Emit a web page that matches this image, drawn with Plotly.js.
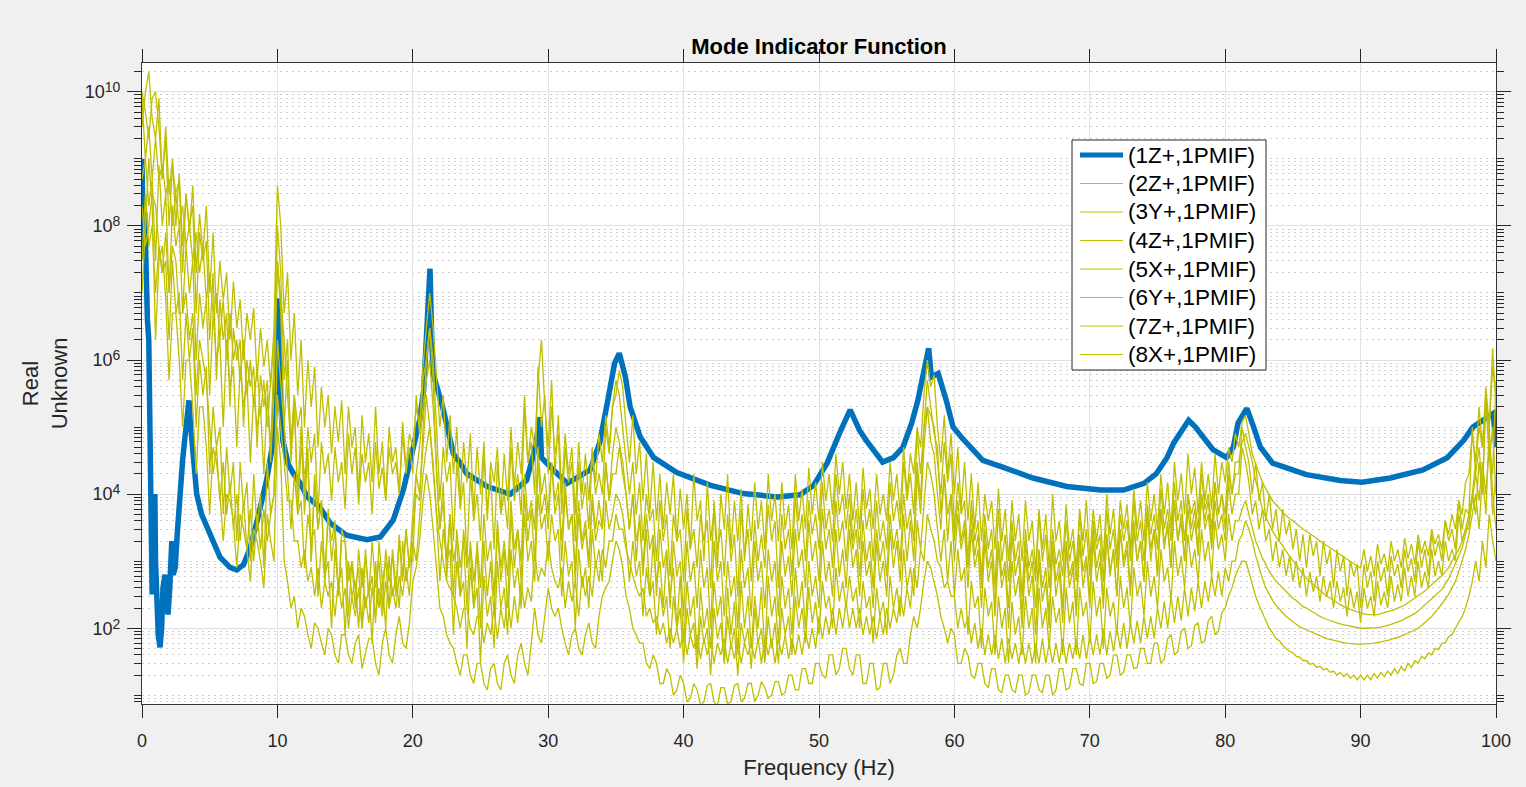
<!DOCTYPE html>
<html><head><meta charset="utf-8">
<script src="https://cdn.plot.ly/plotly-3.0.1.min.js"></script>
<style>html,body{margin:0;padding:0;background:#f0f0f0;}#chart{width:1526px;height:787px;}</style>
</head><body><div id="chart"></div>
<script>
// Frequency grid (Hz) of the yellow PMIF series
const freq = [
0,0.25,0.5,0.75,1,1.25,1.5,1.75,2,2.25,2.5,2.75,3,3.25,3.5,3.75,4,4.25,4.5,4.75,
5,5.25,5.5,5.75,6,6.25,6.5,6.75,7,7.25,7.5,7.75,8,8.25,8.5,8.75,9,9.25,9.5,9.75,
10,10.25,10.5,10.75,11,11.25,11.5,11.75,12,12.25,12.5,12.75,13,13.25,13.5,13.75,14,14.25,14.5,14.75,
15,15.25,15.5,15.75,16,16.25,16.5,16.75,17,17.25,17.5,17.75,18,18.25,18.5,18.75,19,19.25,19.5,19.75,
20,20.25,20.5,20.75,21,21.25,21.5,21.75,22,22.25,22.5,22.75,23,23.25,23.5,23.75,24,24.25,24.5,24.75,
25,25.25,25.5,25.75,26,26.25,26.5,26.75,27,27.25,27.5,27.75,28,28.25,28.5,28.75,29,29.25,29.5,29.75,
30,30.25,30.5,30.75,31,31.25,31.5,31.75,32,32.25,32.5,32.75,33,33.25,33.5,33.75,34,34.25,34.5,34.75,
35,35.25,35.5,35.75,36,36.25,36.5,36.75,37,37.25,37.5,37.75,38,38.25,38.5,38.75,39,39.25,39.5,39.75,
40,40.25,40.5,40.75,41,41.25,41.5,41.75,42,42.25,42.5,42.75,43,43.25,43.5,43.75,44,44.25,44.5,44.75,
45,45.25,45.5,45.75,46,46.25,46.5,46.75,47,47.25,47.5,47.75,48,48.25,48.5,48.75,49,49.25,49.5,49.75,
50,50.25,50.5,50.75,51,51.25,51.5,51.75,52,52.25,52.5,52.75,53,53.25,53.5,53.75,54,54.25,54.5,54.75,
55,55.25,55.5,55.75,56,56.25,56.5,56.75,57,57.25,57.5,57.75,58,58.25,58.5,58.75,59,59.25,59.5,59.75,
60,60.25,60.5,60.75,61,61.25,61.5,61.75,62,62.25,62.5,62.75,63,63.25,63.5,63.75,64,64.25,64.5,64.75,
65,65.25,65.5,65.75,66,66.25,66.5,66.75,67,67.25,67.5,67.75,68,68.25,68.5,68.75,69,69.25,69.5,69.75,
70,70.25,70.5,70.75,71,71.25,71.5,71.75,72,72.25,72.5,72.75,73,73.25,73.5,73.75,74,74.25,74.5,74.75,
75,75.25,75.5,75.75,76,76.25,76.5,76.75,77,77.25,77.5,77.75,78,78.25,78.5,78.75,79,79.25,79.5,79.75,
80,80.25,80.5,80.75,81,81.25,81.5,81.75,82,82.25,82.5,82.75,83,83.25,83.5,83.75,84,84.25,84.5,84.75,
85,85.25,85.5,85.75,86,86.25,86.5,86.75,87,87.25,87.5,87.75,88,88.25,88.5,88.75,89,89.25,89.5,89.75,
90,90.25,90.5,90.75,91,91.25,91.5,91.75,92,92.25,92.5,92.75,93,93.25,93.5,93.75,94,94.25,94.5,94.75,
95,95.25,95.5,95.75,96,96.25,96.5,96.75,97,97.25,97.5,97.75,98,98.25,98.5,98.75,99,99.25,99.5,99.75,
100];

// Blue series (1Z+,1PMIF)
const blueFreq = [0,0.05,0.1,0.2,0.3,0.4,0.5,0.6,0.7,0.75,0.85,0.95,1.0,1.1,1.2,1.33,1.45,1.55,1.7,1.8,1.92,2.05,2.2,2.3,2.45,2.6,2.8,3.0,3.2,3.47,3.6,3.77,4.04,4.4,4.78,5.3,5.76,6.5,7.0,7.5,8.0,8.5,9.2,9.7,9.95,10.05,10.2,10.4,10.8,11.2,11.7,12.2,13.1,13.9,15.1,16.6,17.6,18.55,19.3,20.0,20.5,20.8,21.1,21.27,21.4,21.5,22.2,23,23.5,24,25.5,27.2,28.4,29.0,29.4,29.5,30.2,31.4,33.1,33.8,34.4,34.9,35.25,35.7,36.05,36.8,37.8,39.5,42,44.4,46.9,48.6,49.6,50.6,51.6,52.3,53.0,53.5,54.7,55.5,56.2,56.85,57.3,57.8,58.1,58.3,58.8,59.4,59.9,60.5,61.2,62.1,63.4,65.8,68.3,70.8,72.5,74,74.9,75.7,76.2,76.9,77.3,77.8,78.4,79.1,80.1,80.6,80.95,81.6,82.1,82.6,83.5,86,88.5,90.1,92.2,94.6,96.4,97.6,98.3,99.1,99.8,100];
const blueVal = [1e9,1e8,3.2e7,1.6e8,1e7,4e6,2e6,8e4,3.2e3,3.2e2,2e3,1e4,1e3,2.5e2,80,52,100,400,630,320,160,400,2000,630,800,2500,1.26e4,3.2e4,8e4,2.5e5,1e5,4e4,1e4,5e3,3.2e3,1.8e3,1.15e3,810,740,890,1.6e3,4e3,1.6e4,6.3e4,6.3e5,8.3e6,4e5,6.3e4,2.8e4,2e4,1.45e4,9.1e3,6.5e3,3.7e3,2.45e3,2.1e3,2.3e3,4.1e3,1.15e4,4.6e4,1.26e5,3.5e5,3.2e6,2.3e7,2e6,6.3e5,2e5,4e4,2.9e4,2e4,1.3e4,1e4,1.6e4,4.5e4,1.4e5,3.5e4,2.5e4,1.45e4,2.3e4,5.8e4,2.5e5,8.9e5,1.26e6,5.6e5,2e5,7.1e4,3.5e4,2.1e4,1.35e4,1.02e4,9.1e3,9.8e3,1.35e4,2.9e4,8.9e4,1.8e5,8.9e4,6.3e4,3e4,3.5e4,5e4,1.15e5,2.5e5,7.1e5,1.5e6,5.6e5,6.3e5,2.5e5,1e5,7.1e4,5e4,3.2e4,2.6e4,1.74e4,1.3e4,1.15e4,1.15e4,1.45e4,2e4,3.5e4,5.8e4,1e5,1.26e5,1e5,7.1e4,4.6e4,3.5e4,5e4,1.15e5,1.9e5,1e5,5e4,2.9e4,1.95e4,1.6e4,1.5e4,1.74e4,2.3e4,3.5e4,6.3e4,1e5,1.26e5,1.6e5,5e4];

const s2 = [
3e9,1e10,2e10,4e9,2e9,8e9,5e8,3e9,3e8,1e9,1e8,6e8,5e7,3e8,8e7,4e8,2e7,1.5e8,4e7,2e8,
1e7,8e7,5e6,3e7,8e6,2e7,2e6,1.5e7,3e6,8e6,1e6,5e6,2e6,6e6,5e5,3e6,8e5,2e6,4e5,3e6,
4e8,1e8,5e6,2e7,1e6,5e6,3e5,2e6,1e5,1e6,2e5,8e5,5e4,4e5,1e5,3e5,4e4,2e5,6e4,2.5e5,
2e4,2e5,5e4,1e5,1e4,1.5e5,3e4,8e4,1.5e4,2e5,2e4,6e4,8e3,1e5,3e4,5e4,1e4,1.2e5,2.5e4,8e4,
5e4,2e5,1e5,8e5,3e6,1e7,3e6,5e5,1e5,3e5,3e4,1.5e5,2e4,1e5,8e3,6e4,1.5e4,8e4,5e3,5e4,
1e4,6e4,4e3,3e4,1.5e4,5e4,5e3,4e4,8e3,1e5,1.2e4,6e4,2e4,3e5,3e4,1e5,5e4,5e5,2e6,2e5,
5e4,5e5,2e4,1.5e5,1e4,8e4,2e4,5e4,5e3,6e4,1e4,4e4,8e3,5e4,1.5e4,8e4,3e4,1.5e5,5e4,2e5,
3e5,7e5,4e5,1e5,3e4,1.5e5,2e4,6e4,8e3,4e4,5e3,3e4,4e3,2e4,3e3,1.5e4,5e3,2e4,2e3,1.2e4,
3e3,1e4,1.5e3,2e4,4e3,8e3,1e3,1.5e4,2e3,6e3,8e2,1e4,3e3,2e4,1.5e3,8e3,2e3,1.2e4,1e3,7e3,
2e3,1.5e4,3e3,8e3,1.5e3,2e4,4e3,1e4,2e3,1.5e4,3e3,7e3,1.5e3,2e4,4e3,1.2e4,3e3,2.5e4,5e3,1.5e4,
4e3,3e4,8e3,2e4,5e3,4e4,1e4,3e4,6e3,2e4,4e3,1.5e4,3e3,2.5e4,6e3,1.2e4,3e3,2e4,5e3,1e4,
4e3,3e4,8e3,2e4,5e3,5e4,1e4,4e4,2e4,1e5,5e4,3e5,1e6,4e5,6e5,1e5,3e4,1.5e5,2e4,8e4,
1e4,5e4,6e3,3e4,4e3,2e4,3e3,1.5e4,2e3,1e4,4e3,8e3,1.5e3,1.2e4,2e3,6e3,1e3,8e3,2e3,5e3,
1e3,8e3,2e3,4e3,7e2,6e3,1.5e3,5e3,8e2,1e4,2e3,4e3,1e3,7e3,1.5e3,3e3,8e2,6e3,2e3,8e3,
1e3,6e3,2e3,5e3,1e3,1e4,2.5e3,6e3,1.2e3,8e3,3e3,7e3,1.5e3,1.2e4,3e3,8e3,2e3,1.5e4,4e3,1e4,
3e3,2e4,5e3,1.5e4,3e3,3e4,8e3,2e4,5e3,4e4,1e4,2.5e4,5e3,3e4,8e3,2e4,6e3,4e4,1e4,3e4,
1.5e4,5e4,3e4,8e4,5e4,1.2e5,1.5e5,8e4,4e4,2.8e4,2e4,1.5e4,1.2e4,1e4,8e3,7e3,6e3,5.3e3,4.8e3,4.3e3,
4e3,3.6e3,3.3e3,3e3,2.8e3,2.6e3,2.4e3,2.2e3,2e3,1.85e3,1.7e3,1.55e3,1.45e3,1.35e3,1.25e3,1.15e3,1.05e3,9.8e2,9e2,8.5e2,
8e2,1.5e3,7e2,1.2e3,6e2,1.8e3,9e2,1.3e3,7e2,2e3,1e3,1.5e3,8e2,2.2e3,1.1e3,1.8e3,9e2,2.5e3,1.3e3,2e3,
1.2e3,3e3,1.8e3,2.5e3,1.5e3,4e3,2.5e3,5e3,3e3,8e3,5e3,1.5e4,2e4,8e4,3e4,2e5,5e4,4e5,1e5,1.5e6,
2e5];

const s3 = [
1e10,5e9,2e9,8e9,1e10,3e9,5e8,2e9,1e8,8e8,3e8,5e8,2e7,3e8,1e8,2e8,5e6,8e7,3e7,6e7,
2e6,2e7,5e5,8e6,2e6,5e6,2e5,3e6,1e6,2e6,1e5,1e6,4e5,8e5,5e4,6e5,2e5,5e5,3e4,3e5,
3e7,5e6,1e5,1e6,5e4,3e5,5e3,5e4,2e4,3e4,1e3,1.5e4,3e3,8e3,5e2,5e3,2e3,4e3,3e2,3e3,
2e3,1.5e2,1e3,4e2,8e2,1e2,1.5e3,3e2,6e2,1.2e2,2e3,5e2,1e3,2e2,1.5e3,4e2,2.5e3,5e2,3e3,8e2,
3e3,1e4,8e3,1e5,1e6,3e6,5e5,2e4,3e3,8e3,1e3,5e3,3e2,3e3,8e2,2e3,2e2,2e3,5e2,1.5e3,
1e2,2e3,3e2,1e3,1.5e2,3e3,5e2,1.5e3,2e2,5e3,8e2,3e3,5e2,1e4,2e3,6e3,1e3,3e4,5e3,1e4,
3e3,3e4,5e3,1e4,2e3,1.5e4,3e3,5e3,8e2,8e3,2e3,4e3,1e3,1e4,3e3,8e3,3e3,3e4,8e3,2e4,
2e4,5e4,2e4,1e4,3e3,1e4,1e3,5e3,6e2,3e3,3e2,2e3,5e2,1e3,2e2,1.2e3,3e2,8e2,1e2,6e2,
6e1,5e2,1.5e2,3e2,4e1,4e2,1e2,2e2,5e1,5e2,1.5e2,3e2,3e1,4e2,8e1,2.5e2,4e1,5e2,1e2,3e2,
5e1,3e2,1e2,4e2,4e1,6e2,1.5e2,3e2,6e1,6e2,2e2,4e2,8e1,8e2,2e2,5e2,1e2,1e3,3e2,6e2,
2e2,2e3,5e2,1e3,3e2,3e3,6e2,1.5e3,4e2,3e3,8e2,1.5e3,3e2,2e3,6e2,1e3,2e2,2e3,5e2,1e3,
3e2,3e3,8e2,2e3,5e2,5e3,1e3,4e3,1e3,2e4,5e3,5e4,2e5,6e4,4e4,1e4,3e3,2e4,2e3,1e4,
1e3,5e3,1.5e3,3e3,4e2,3e3,8e2,1.5e3,2e2,2e3,5e2,1e3,1.5e2,1.5e3,4e2,8e2,1e2,1e3,3e2,6e2,
1e2,1.2e3,3e2,6e2,8e1,1e3,2.5e2,5e2,1e2,1.5e3,3e2,7e2,1.2e2,1.5e3,4e2,8e2,1.5e2,2e3,4e2,1e3,
2e2,2e3,5e2,1e3,2e2,2.5e3,6e2,1.5e3,3e2,3e3,8e2,1.5e3,3e2,3e3,1e3,2e3,5e2,5e3,1e3,3e3,
6e2,6e3,1.5e3,4e3,8e2,8e3,2e3,5e3,1e3,1e4,3e3,6e3,1.5e3,1e4,4e3,8e3,2e3,1.5e4,5e3,1e4,
3e3,2e4,1e4,3e4,3e4,6e4,8e4,5e4,3e4,1.6e4,1e4,6e3,4.5e3,3.5e3,2.8e3,2.3e3,2e3,1.7e3,1.4e3,1.2e3,
1e3,8.5e2,7.5e2,6.5e2,5.5e2,5e2,4.5e2,4e2,3.6e2,3.3e2,3e2,2.8e2,2.6e2,2.4e2,2.2e2,2.1e2,2e2,1.9e2,1.8e2,1.75e2,
1.7e2,1.65e2,1.6e2,1.6e2,1.6e2,1.6e2,1.65e2,1.7e2,1.75e2,1.8e2,1.9e2,2e2,2.1e2,2.2e2,2.4e2,2.6e2,2.8e2,3e2,3.3e2,3.6e2,
4e2,4.5e2,5e2,5.5e2,6e2,7e2,8e2,1e3,1.2e3,1.5e3,2e3,3e3,5e3,1e4,3e4,1e5,5e4,3e5,1e5,8e5,
3e5];

const s4 = [
5e8,1e9,2e8,5e8,3e7,8e8,1e8,3e8,1e7,2e8,5e7,1e8,5e6,5e7,1e7,3e7,1e6,1e7,3e6,8e6,
3e5,5e6,1e6,2e6,1e5,2e6,4e5,8e5,5e4,8e5,2e5,5e5,3e4,3e5,1e5,2e5,2e4,3e5,5e4,1e6,
3e7,8e6,2e6,3e5,5e4,3e5,1e5,2e5,1e4,1e5,3e4,8e4,5e3,6e4,2e4,4e4,8e3,5e4,1.5e4,3e4,
6e3,8e4,2e4,5e4,7e3,4e4,1.5e4,3e4,5e3,6e4,1.2e4,2.5e4,8e3,5e4,2e4,3e4,1e4,8e4,2e4,5e4,
2e4,3e5,8e4,5e5,1e6,3e6,1e6,1e5,8e3,5e4,1.5e4,3e4,2e3,3e4,6e3,1.5e4,1e3,2e4,4e3,1e4,
2e3,4e4,6e3,2e4,1.5e3,3e4,5e3,1e4,3e3,5e4,8e3,2e4,5e3,2e5,3e4,6e4,1e4,8e5,1e5,3e5,
2e4,2e5,4e4,8e4,5e3,5e4,1.5e4,3e4,2e3,3e4,6e3,1.5e4,3e3,4e4,1e4,2e4,1e4,1e5,4e4,2e5,
5e5,3e5,1e5,3e4,1e4,3e4,5e3,1.5e4,2e3,1e4,4e3,6e3,1e3,8e3,2e3,5e3,6e2,5e3,2e3,3e3,
5e2,6e3,1.5e3,3e3,8e2,5e3,2e3,4e3,4e2,8e3,1.5e3,3e3,6e2,5e3,1e3,2.5e3,3e2,6e3,1.2e3,3e3,
5e2,4e3,1e3,2.5e3,8e2,7e3,2e3,4e3,4e2,5e3,1.5e3,3e3,6e2,1e4,2e3,5e3,1e3,8e3,2.5e3,5e3,
1.5e3,1.5e4,3e3,6e3,2e3,2e4,5e3,1e4,3e3,1e4,2e3,6e3,1.5e3,1.2e4,3e3,6e3,1e3,8e3,2e3,4e3,
1.5e3,1.5e4,4e3,8e3,3e3,3e4,8e3,2e4,5e3,8e4,2e4,1e5,2e5,1.5e5,1e5,3e4,1e4,6e4,1.5e4,4e4,
3e3,1.5e4,5e3,8e3,1e3,8e3,2e3,4e3,6e2,5e3,1.5e3,3e3,4e2,6e3,1e3,2.5e3,5e2,4e3,1e3,2e3,
3e2,3e3,8e2,1.5e3,5e2,5e3,1e3,2.5e3,4e2,3e3,9e2,1.5e3,6e2,4e3,1e3,2e3,5e2,5e3,1.2e3,3e3,
6e2,4e3,1.5e3,2.5e3,5e2,6e3,1.5e3,3e3,8e2,5e3,2e3,4e3,1e3,8e3,2e3,4e3,1e3,7e3,2.5e3,5e3,
1.5e3,1.2e4,3e3,6e3,2e3,1.5e4,4e3,8e3,2e3,1e4,5e3,8e3,3e3,2e4,6e3,1e4,3e3,1.5e4,5e3,1e4,
5e3,3e4,1e4,2e4,2e4,1e5,5e4,3e4,1e4,3e4,8e3,1.5e4,4e3,1e4,3e3,6e3,2e3,6e3,2.5e3,4e3,
1.5e3,3e3,1e3,2.5e3,8e2,2.5e3,1.2e3,2e3,6e2,2e3,9e2,1.5e3,4e2,1.5e3,7e2,1.2e3,3e2,1e3,6e2,9e2,
2e2,9e2,4e2,7e2,2.5e2,1e3,5e2,8e2,3e2,1.2e3,6e2,9e2,4e2,1.5e3,7e2,1.1e3,5e2,2e3,8e2,1.5e3,
6e2,2.5e3,1.2e3,2e3,1e3,4e3,2e3,3e3,1.5e3,8e3,3e3,6e3,5e3,1e5,2e4,5e4,1e4,3e5,3e4,1e5,
1e4];

const s5 = [
3e7,3e8,5e7,1e8,1e7,5e7,2e7,3e7,2e6,3e7,5e6,1e7,5e5,5e6,1e6,3e6,1e5,1e6,3e5,8e5,
2e4,2e5,5e4,1e5,5e3,5e4,1e4,3e4,2e3,3e4,6e3,1.5e4,1e3,2e4,3e3,1e4,8e2,3e4,5e3,1e4,
2e6,5e5,1e5,2e4,3e3,2e4,5e3,8e3,8e2,5e3,2e3,3e3,3e2,2e3,6e2,1e3,1e2,1.5e3,4e2,8e2,
8e1,1e3,3e2,5e2,1e2,8e2,2e2,4e2,6e1,1e3,2e2,5e2,1e2,1.2e3,3e2,6e2,2e2,2e3,5e2,1e3,
1e3,2e4,1e4,5e4,3e5,1e5,2e4,5e3,5e2,3e3,1e3,1.5e3,8e1,1e3,3e2,5e2,5e1,8e2,2e2,4e2,
3e1,6e2,1.5e2,3e2,5e1,1e3,2e2,4e2,8e1,1.5e3,4e2,8e2,2e2,5e3,1e3,2e3,5e2,1e4,3e3,5e3,
1e3,5e3,2e3,3e3,3e2,2e3,6e2,1e3,1e2,1.5e3,4e2,8e2,2e2,3e3,8e2,1.5e3,5e2,8e3,3e3,5e3,
1e4,8e3,5e3,2e3,5e2,2e3,6e2,1e3,1.5e2,8e2,3e2,5e2,8e1,4e2,1.5e2,3e2,5e1,3e2,1e2,2e2,
3e1,2e2,8e1,1.2e2,2.5e1,1.5e2,6e1,1e2,2e1,2e2,7e1,1.2e2,3e1,1.5e2,5e1,1e2,2e1,1.2e2,6e1,1e2,
2.5e1,2e2,6e1,1e2,3e1,1.5e2,5e1,1.2e2,3e1,2e2,8e1,1.5e2,4e1,3e2,1e2,2e2,6e1,4e2,1.2e2,2.5e2,
8e1,5e2,2e2,3e2,1e2,8e2,2.5e2,5e2,2e2,6e2,2.5e2,4e2,1e2,5e2,2e2,3e2,6e1,4e2,1.5e2,2.5e2,
8e1,6e2,2e2,4e2,1.5e2,1.5e3,4e2,8e2,3e2,4e3,1.5e3,8e3,3e4,2e4,1e4,3e3,1e3,3e3,5e2,2e3,
3e2,1.5e3,5e2,8e2,8e1,5e2,2e2,3e2,5e1,4e2,1.5e2,2.5e2,4e1,3e2,1e2,2e2,3e1,2.5e2,8e1,1.5e2,
4e1,3e2,1e2,2e2,3e1,4e2,1e2,2e2,5e1,3e2,1.2e2,2e2,4e1,4e2,1.2e2,2.5e2,4e1,4e2,1.5e2,2.5e2,
6e1,5e2,1.5e2,3e2,5e1,4e2,1.5e2,2.5e2,8e1,6e2,2e2,4e2,1e2,8e2,3e2,5e2,1.5e2,1e3,3e2,6e2,
2e2,1.5e3,5e2,8e2,2.5e2,2e3,6e2,1.2e3,4e2,2.5e3,8e2,1.5e3,5e2,3e3,1e3,2e3,6e2,4e3,1.5e3,2.5e3,
1e3,5e3,2e3,4e3,4e3,6e3,8e3,5e3,3e3,2e3,1.5e3,1.1e3,9e2,7e2,6e2,5e2,4.5e2,4e2,3.5e2,3.2e2,
2.8e2,2.6e2,2.3e2,2.1e2,2e2,1.85e2,1.7e2,1.6e2,1.5e2,1.42e2,1.35e2,1.3e2,1.25e2,1.2e2,1.15e2,1.12e2,1.1e2,1.07e2,1.05e2,1.03e2,
1e2,1e2,1e2,1e2,1e2,1.02e2,1.04e2,1.06e2,1.1e2,1.14e2,1.18e2,1.24e2,1.3e2,1.38e2,1.46e2,1.55e2,1.65e2,1.8e2,2e2,2.2e2,
2.4e2,2.7e2,3e2,3.4e2,3.8e2,4.5e2,5.5e2,7e2,9e2,1.2e3,1.6e3,2.5e3,4e3,8e3,2e4,8e3,3e4,1e4,5e4,5e3,
2e4];

const s6 = [
2e8,5e7,1e8,3e8,2e8,5e7,2e7,8e7,1e7,5e7,3e7,5e6,5e6,1e7,2e6,5e6,3e5,2e6,1e6,5e5,
1e5,2e4,5e4,8e3,3e4,5e3,1.5e4,3e3,1e4,2e3,8e3,1.5e3,6e3,1e3,5e3,1.5e3,6e3,2e3,5e3,1e4,
3e5,1e5,3e4,8e3,8e3,2e3,2e3,8e2,1.5e3,5e2,8e2,3e2,8e2,2e2,5e2,3e2,5e2,1.5e2,5e2,2e2,
4e2,1e2,3e2,1.5e2,4e2,1e2,3e2,1.2e2,4e2,1.5e2,4e2,1.5e2,5e2,2e2,4e2,2e2,6e2,3e2,8e2,3e2,
2e3,1e3,5e3,2e4,5e4,1e5,3e4,5e3,2e3,1e3,5e2,4e2,3e2,2e2,1e2,2e2,2e2,1e2,8e1,1.5e2,
1.5e2,6e1,1.2e2,8e1,2e2,7e1,2e2,1e2,3e2,1e2,3e2,1.2e2,5e2,2e2,4e2,2.5e2,1.5e3,5e2,8e2,6e2,
2e3,8e2,5e2,4e2,8e2,2e2,5e2,2.5e2,5e2,1.5e2,6e2,3e2,6e2,3e2,1e3,5e2,1.5e3,8e2,2e3,2e3,
5e3,3e3,3e3,1.5e3,1e3,6e2,4e2,3e2,4e2,1.5e2,2e2,1.2e2,1.5e2,8e1,1.2e2,6e1,1e2,6e1,1e2,5e1,
1e2,4e1,8e1,5e1,8e1,3.5e1,7e1,4e1,7e1,3e1,6e1,4e1,7e1,3e1,6e1,3.5e1,7e1,3e1,6e1,4e1,
6e1,3.5e1,7e1,3e1,7e1,4e1,7e1,3e1,7e1,4e1,8e1,3.5e1,7e1,4e1,8e1,4e1,9e1,5e1,1e2,5e1,
1.5e2,7e1,1.5e2,8e1,2e2,8e1,2e2,1e2,2.5e2,1e2,2e2,1e2,2e2,8e1,1.5e2,8e1,1.5e2,7e1,1.5e2,8e1,
2e2,1e2,2e2,1.2e2,3e2,1.5e2,4e2,2e2,8e2,4e2,1.5e3,1e3,5e3,3e3,2e3,1e3,8e2,4e2,5e2,3e2,
3e2,1e2,2e2,1e2,1.5e2,6e1,1.2e2,5e1,1e2,4e1,8e1,4e1,8e1,3.5e1,7e1,3e1,7e1,3.5e1,6e1,3e1,
6e1,3e1,6e1,3e1,6e1,3e1,7e1,3e1,6e1,3e1,6e1,3e1,7e1,3e1,6e1,3.5e1,7e1,3.5e1,8e1,3.5e1,
8e1,4e1,8e1,4e1,1e2,4e1,9e1,4.5e1,1e2,5e1,1.2e2,5e1,1.2e2,6e1,1.3e2,6e1,1.5e2,7e1,1.5e2,7e1,
2e2,1e2,2.5e2,1e2,3e2,1.2e2,3e2,1.3e2,4e2,1.5e2,4e2,1.8e2,5e2,2e2,5e2,2.5e2,6e2,3e2,7e2,3e2,
8e2,5e2,1e3,1e3,2e3,2.5e3,4e3,3e3,2e3,1.2e3,8e2,5.5e2,4e2,3.2e2,2.6e2,2.2e2,1.9e2,1.7e2,1.5e2,1.35e2,
1.25e2,1.15e2,1.05e2,1e2,9.5e1,9e1,8.5e1,8e1,7.6e1,7.3e1,7e1,6.8e1,6.6e1,6.4e1,6.2e1,6.1e1,6e1,5.9e1,5.8e1,5.8e1,
5.8e1,5.8e1,5.8e1,5.9e1,6e1,6.1e1,6.2e1,6.4e1,6.6e1,6.8e1,7e1,7.3e1,7.6e1,8e1,8.5e1,9e1,9.5e1,1e2,1.1e2,1.2e2,
1.35e2,1.5e2,1.7e2,2e2,2.3e2,2.7e2,3.2e2,4e2,5e2,7e2,1e3,1.5e3,2.5e3,5e3,1e4,3e3,2e4,5e3,1e5,1e4,
3e3];

const s7 = [
1e7,1e8,1e9,2e8,2e6,3e7,5e7,8e6,5e5,5e6,5e6,1e6,1e5,1e6,1e6,2e5,2e4,2e5,2e5,5e4,
5e3,5e4,3e4,1e4,2e3,1e4,8e3,4e3,8e2,5e3,3e3,1.5e3,5e2,3e3,2e3,1e3,4e2,5e3,2e3,1e3,
1e5,3e4,1e3,5e2,2e2,3e2,1e2,2e2,1.5e2,8e1,5e1,1.2e2,1e2,6e1,4e1,1e2,8e1,4e1,3e1,8e1,
8e1,4e1,3e1,6e1,8e1,2.5e1,4e1,7e1,7e1,3e1,2e1,6e1,1e2,4e1,3e1,8e1,1.5e2,6e1,5e1,1.2e2,
5e2,8e2,2e3,8e3,2e4,1e4,3e3,8e2,2e2,1.5e2,8e1,6e1,5e1,3e1,2e1,4e1,4e1,2e1,1.5e1,3e1,
3e1,1.5e1,1.2e1,2.5e1,3e1,1.5e1,1.2e1,3e1,4e1,2e1,1.5e1,4e1,6e1,3e1,2e1,6e1,2e2,8e1,6e1,1.5e2,
4e2,2e2,1.5e2,2e2,1e2,6e1,4e1,8e1,1e2,5e1,4e1,8e1,1.2e2,6e1,5e1,1.5e2,3e2,4e2,5e2,1e3,
2e3,1.5e3,8e2,3e2,2e2,1e2,8e1,6e1,6e1,3e1,2.5e1,4e1,3e1,1.5e1,1.5e1,2.5e1,2e1,1e1,1.2e1,2e1,
1.5e1,8,9,1.5e1,1.2e1,7,8,1.4e1,1.5e1,8,7,1.3e1,1.3e1,7.5,8,1.4e1,1.5e1,8,9,1.5e1,
1.5e1,8,1e1,1.6e1,1.3e1,9,1e1,1.6e1,1.6e1,1e1,1.1e1,2e1,2e1,1.2e1,1.2e1,2.5e1,2.5e1,1.5e1,1.5e1,3e1,
3e1,2e1,1.8e1,4e1,4e1,2e1,2.5e1,5e1,5e1,2.5e1,2e1,4e1,4e1,1.5e1,1.5e1,3e1,3e1,1.2e1,1.3e1,3e1,
3e1,1.5e1,2e1,4e1,5e1,3e1,3e1,8e1,1.5e2,1e2,2e2,5e2,1e3,8e2,5e2,3e2,1.5e2,1e2,6e1,1e2,
8e1,3e1,3e1,5e1,4e1,2e1,1.8e1,3e1,3e1,1.5e1,1.3e1,2.5e1,2.5e1,1.2e1,1.1e1,2e1,2e1,1.2e1,1.1e1,2e1,
2e1,1e1,1.1e1,2e1,2e1,1.2e1,1.1e1,2e1,2e1,1e1,1.2e1,2.5e1,2.5e1,1.2e1,1.3e1,2.5e1,2.5e1,1.5e1,1.4e1,3e1,
3e1,1.5e1,1.6e1,3e1,3e1,1.8e1,2e1,4e1,4e1,2e1,2.2e1,4e1,4e1,2.5e1,2.6e1,5e1,5e1,3e1,3e1,6e1,
6e1,3e1,3.5e1,7e1,8e1,4e1,4.5e1,9e1,1e2,5e1,5.5e1,1.1e2,1.2e2,6e1,6.5e1,1.3e2,1.5e2,8e1,9e1,1.7e2,
2e2,3e2,4e2,6e2,8e2,1e3,1e3,7e2,4.5e2,3e2,2.2e2,1.7e2,1.3e2,1e2,8.5e1,7e1,6.5e1,5.5e1,5e1,4.5e1,
4.3e1,3.8e1,3.7e1,3.3e1,3.3e1,2.9e1,3e1,2.6e1,2.7e1,2.4e1,2.5e1,2.2e1,2.3e1,2e1,2.2e1,1.9e1,2.1e1,1.8e1,2e1,1.7e1,
2e1,1.7e1,2e1,1.7e1,2.1e1,1.8e1,2.2e1,1.9e1,2.3e1,2e1,2.5e1,2.1e1,2.7e1,2.3e1,3e1,2.6e1,3.3e1,3e1,3.8e1,3.5e1,
4.3e1,4e1,5e1,4.8e1,6e1,6e1,7.5e1,8e1,1e2,1.2e2,1.5e2,2e2,3e2,5e2,1e3,5e2,2e3,8e2,5e3,2e3,
1e3];

const s8 = [
8e9,1e9,3e9,5e8,2e9,5e8,8e8,3e8,5e8,1e8,3e8,1e8,2e8,5e7,1e8,3e7,8e7,2e7,5e7,8e6,
2e7,5e6,1e7,2e6,8e6,1e6,5e6,1e6,2e6,5e5,2e6,3e5,1e6,2e5,8e5,1.5e5,5e5,1e5,5e5,2e6,
1e8,2e7,5e5,2e6,3e4,2e5,1e4,1e5,5e3,5e4,1e3,2e4,3e3,8e3,5e2,6e3,1e3,3e3,3e2,2e3,
2e3,5e2,1e3,2e2,1.5e3,4e2,1.2e3,3e2,2e3,4e2,1e3,2e2,1.5e3,5e2,1.2e3,3e2,2e3,6e2,3e3,8e2,
5e3,2e4,5e4,2e5,5e5,1e6,2e5,3e4,3e3,1.5e4,5e2,5e3,1e3,2e3,3e2,3e3,8e2,1.5e3,2e2,2e3,
4e2,5e3,1e3,2e3,3e2,4e3,8e2,2e3,6e2,8e3,1.5e3,3e3,1e3,2e4,4e3,8e3,3e3,5e4,1e4,2e4,
5e3,3e4,8e3,1.5e4,1e3,1e4,3e3,5e3,5e2,5e3,1.5e3,3e3,8e2,8e3,2e3,4e3,3e3,3e4,8e3,4e4,
1e5,6e4,3e4,1e4,3e3,1e4,2e3,4e3,8e2,5e3,1.5e3,2.5e3,3e2,3e3,8e2,1.5e3,2e2,2e3,6e2,1e3,
1.5e2,2e3,5e2,1e3,2e2,1.5e3,4e2,8e2,1e2,2e3,5e2,1e3,1.5e2,1e3,3e2,6e2,1e2,1.5e3,4e2,8e2,
1.5e2,2e3,5e2,1e3,2e2,1.5e3,5e2,1e3,1.5e2,2e3,6e2,1.2e3,3e2,3e3,8e2,1.5e3,4e2,4e3,1e3,2e3,
5e2,6e3,1.5e3,3e3,8e2,8e3,2e3,4e3,1e3,5e3,1.5e3,3e3,6e2,4e3,1e3,2e3,4e2,3e3,1e3,2e3,
6e2,5e3,1.5e3,3e3,1e3,1e4,3e3,6e3,2e3,3e4,8e3,1e5,5e5,2e5,8e4,5e4,5e3,2e4,5e3,1e4,
2e3,8e3,2e3,4e3,8e2,5e3,1.2e3,2.5e3,4e2,3e3,8e2,1.5e3,2e2,2e3,6e2,1e3,2e2,2.5e3,6e2,1.2e3,
1.5e2,2e3,5e2,1e3,2e2,1.5e3,4e2,8e2,1.5e2,2e3,5e2,1e3,2e2,2e3,6e2,1e3,2e2,2.5e3,7e2,1.2e3,
3e2,3e3,8e2,1.5e3,2.5e2,2.5e3,7e2,1.5e3,3e2,3e3,1e3,2e3,4e2,4e3,1e3,2e3,5e2,5e3,1.5e3,3e3,
6e2,6e3,2e3,3e3,8e2,8e3,2e3,4e3,1e3,6e3,2e3,4e3,1.2e3,1e4,3e3,5e3,1.5e3,8e3,3e3,5e3,
2e3,1.5e4,5e3,1e4,1e4,5e4,3e4,1.5e4,5e3,8e3,3e3,6e3,2e3,3e3,1e3,2e3,8e2,1.5e3,6e2,1.2e3,
5e2,1e3,4e2,8e2,3e2,7e2,3.5e2,6e2,2.5e2,6e2,3e2,5e2,2e2,5e2,2.5e2,4e2,1.5e2,4e2,2e2,3.5e2,
1.2e2,4e2,2e2,3e2,1.5e2,5e2,2.2e2,3.5e2,2e2,6e2,2.5e2,4.5e2,2.5e2,8e2,3e2,6e2,3e2,1e3,4e2,7e2,
4e2,1.5e3,6e2,1e3,6e2,2e3,1e3,1.5e3,1e3,5e3,2e3,3e3,3e3,1e4,5e3,3e4,1e4,3e5,5e4,2e4,
5e5];

const seriesNames = ['(1Z+,1PMIF)','(2Z+,1PMIF)','(3Y+,1PMIF)','(4Z+,1PMIF)','(5X+,1PMIF)','(6Y+,1PMIF)','(7Z+,1PMIF)','(8X+,1PMIF)'];
const yellowSeries = [s2,s3,s4,s5,s6,s7,s8];

const yTickVals = [1e2,1e4,1e6,1e8,1e10];
const yTickExp = ['2','4','6','8','10'];
const yTickText = yTickExp.map(e => '10<span style="font-size:14px;baseline-shift:45%">' + e + '</span>');
const xTickVals = [0,10,20,30,40,50,60,70,80,90,100];

// minor tick positions on the log axis (2..9 x 10^n, plus the odd decades)
const yMinor = [];
for (let n = 0; n <= 10; n++) {
  for (let k = 1; k <= 9; k++) {
    if (k === 1 && n % 2 === 0) continue;
    yMinor.push(k * Math.pow(10, n));
  }
}

const YELLOW = '#BFBF00', BLUE = '#0072BD';
const traces = [{
  x: blueFreq, y: blueVal, type: 'scatter', mode: 'lines', name: seriesNames[0],
  line: {color: BLUE, width: 5.5}
}];
yellowSeries.forEach((s, i) => {
  traces.push({x: freq, y: s, type: 'scatter', mode: 'lines', name: seriesNames[i+1],
    line: {color: YELLOW, width: 1.3}});
});

// plot-area pixel frame, used to place the hand-built legend
const FR = {l: 142, r: 1496, t: 63, b: 704};
const xp = px => (px - FR.l) / (FR.r - FR.l);
const yp = py => (FR.b - py) / (FR.b - FR.t);

const FONT = 'Liberation Sans, Arial, Helvetica, sans-serif';
const shapes = [{type: 'rect', xref: 'paper', yref: 'paper', x0: xp(1072), x1: xp(1266), y0: yp(370), y1: yp(140),
  fillcolor: '#ffffff', line: {color: '#262626', width: 1}, layer: 'above'}];
const annotations = [];
seriesNames.forEach((nm, i) => {
  const rowY = 155 + 28.5 * i;
  shapes.push({type: 'line', xref: 'paper', yref: 'paper', x0: xp(1080), x1: xp(1123), y0: yp(rowY), y1: yp(rowY),
    line: {color: i === 0 ? BLUE : YELLOW, width: i === 0 ? 5 : 1.2}, layer: 'above'});
  annotations.push({xref: 'paper', yref: 'paper', x: xp(1126), y: yp(rowY), text: nm, showarrow: false,
    xanchor: 'left', yanchor: 'middle', font: {family: FONT, size: 22.5, color: '#000000'}});
});

const layout = {
  width: 1526, height: 787,
  paper_bgcolor: '#f0f0f0', plot_bgcolor: '#ffffff',
  margin: {l: 142, r: 30, t: 63, b: 83},
  font: {family: FONT, color: '#262626', size: 18},
  showlegend: false,
  shapes: shapes, annotations: annotations,
  title: {text: '<b>Mode Indicator Function</b>', font: {family: FONT, size: 22, color: '#000000'},
    x: 0.5, xref: 'paper', xanchor: 'center', y: 1 - 46/787, yref: 'container', yanchor: 'middle'},
  xaxis: {
    range: [0, 100], tickmode: 'array', tickvals: xTickVals,
    ticks: 'outside', ticklen: 13, tickwidth: 1, tickcolor: '#262626',
    showline: true, linecolor: '#333333', linewidth: 1, mirror: 'allticks',
    showgrid: true, gridcolor: '#e3e3e3', gridwidth: 1, zeroline: false,
    tickfont: {size: 18, color: '#262626'}, ticklabelstandoff: 7,
    title: {text: 'Frequency (Hz)', font: {size: 22, color: '#262626'}, standoff: 10}
  },
  yaxis: {
    type: 'log', range: [0.87, 10.43], tickmode: 'array', tickvals: yTickVals, ticktext: yTickText,
    ticks: 'outside', ticklen: 14, tickwidth: 1, tickcolor: '#262626',
    showline: true, linecolor: '#333333', linewidth: 1, mirror: 'allticks',
    showgrid: true, gridcolor: '#e0e0e0', gridwidth: 1, zeroline: false,
    tickfont: {size: 18, color: '#262626'}, ticklabelstandoff: 3,
    minor: {tickmode: 'array', tickvals: yMinor, ticks: 'outside', ticklen: 7, tickwidth: 1, tickcolor: '#262626',
      showgrid: true, gridcolor: '#cfcfcf', gridwidth: 1, griddash: '2px,4px'},
    title: {text: 'Real<br>Unknown', font: {size: 22, color: '#262626'}, standoff: 11}
  }
};

Plotly.newPlot('chart', traces, layout, {displayModeBar: false, staticPlot: true});
</script>
</body></html>
